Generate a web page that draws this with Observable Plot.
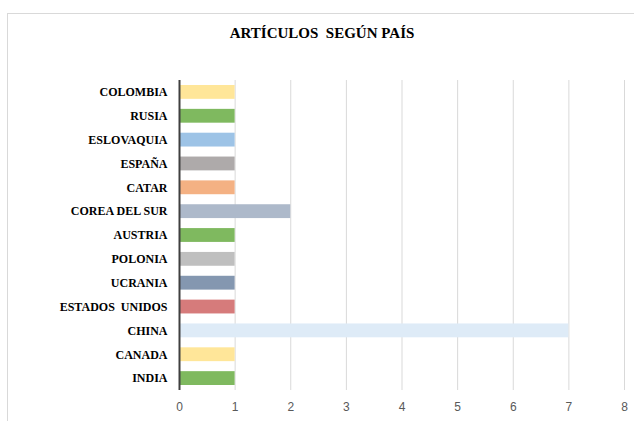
<!DOCTYPE html>
<html>
<head>
<meta charset="utf-8">
<script src="https://cdn.jsdelivr.net/npm/d3@7"></script>
<script src="https://cdn.jsdelivr.net/npm/@observablehq/plot@0.6"></script>
<style>
  body { margin: 0; background: #fff; }
  #wrap { position: relative; width: 634px; height: 421px; overflow: hidden; background: #fff; }
  #frame { position: absolute; left: 7px; top: 13px; width: 660px; height: 440px; border: 1px solid #d9d9d9; box-sizing: border-box; }
  #title { position: absolute; left: 7px; width: 630px; top: 25px; text-align: center; white-space: pre;
           font-family: "Liberation Serif", "Times New Roman", serif; font-weight: bold; font-size: 15px; color: #000; }
  #chart { position: absolute; left: 0; top: 0; }
  #chart g[aria-label="y-axis tick label"], #chart g[aria-label="y-axis tick label"] text {
    font-family: "Liberation Serif", "Times New Roman", serif !important; font-weight: bold; }
  #chart g[aria-label="x-axis tick label"], #chart g[aria-label="x-axis tick label"] text {
    font-family: "Liberation Sans", Arial, sans-serif !important; }
</style>
</head>
<body>
<div id="wrap">
  <div id="frame"></div>
  <div id="title">ARTÍCULOS  SEGÚN PAÍS</div>
  <div id="chart"></div>
</div>
<script>
const countries = ["COLOMBIA", "RUSIA", "ESLOVAQUIA", "ESPAÑA", "CATAR", "COREA DEL SUR", "AUSTRIA", "POLONIA", "UCRANIA", "ESTADOS  UNIDOS", "CHINA", "CANADA", "INDIA"];
const articles = [1, 1, 1, 1, 1, 2, 1, 1, 1, 1, 7, 1, 1];
const colors = ["#FFE699", "#7FB95F", "#9DC3E6", "#AEAAAA", "#F4B183", "#ADB9CA", "#7FB95F", "#BFBFBF", "#8497B0", "#D67B7B", "#DEEBF7", "#FFE699", "#7FB95F"];
const xTicks = [0, 1, 2, 3, 4, 5, 6, 7, 8];

const data = countries.map((c, i) => ({country: c, value: articles[i], color: colors[i]}));

const chart = Plot.plot({
  width: 634,
  height: 421,
  marginLeft: 179,
  marginRight: 10,
  marginTop: 80,
  marginBottom: 31,
  style: {background: "transparent", overflow: "visible"},
  x: {domain: [0, 8], ticks: xTicks, label: null},
  y: {domain: countries, paddingInner: 0.42, paddingOuter: 0.21, round: false, label: null},
  marks: [
    Plot.gridX(xTicks, {stroke: "#d9d9d9", strokeOpacity: 1, strokeWidth: 1}),
    Plot.barX(data, {x: "value", y: "country", fill: "color"}),
    Plot.ruleX([0], {stroke: "#404040", strokeWidth: 2}),
    Plot.axisX(xTicks, {tickSize: 0, tickPadding: 12, fontSize: 12, fill: "#595959", label: null}),
    Plot.axisY({tickSize: 0, tickPadding: 12, fontSize: 12, fill: "#000", label: null})
  ]
});
document.getElementById("chart").appendChild(chart);
</script>
</body>
</html>
